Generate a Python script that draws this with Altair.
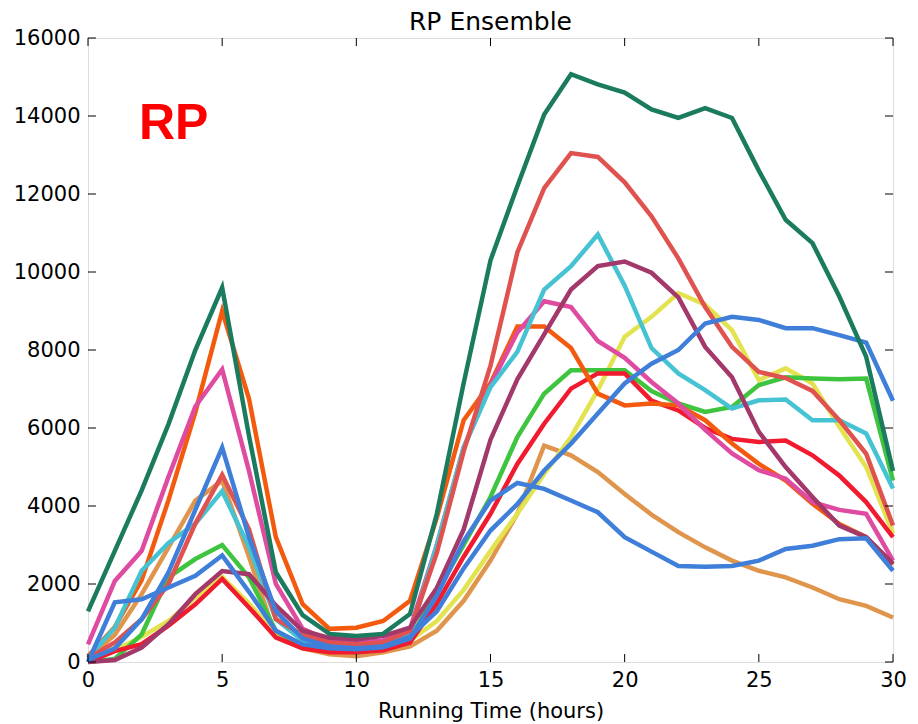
import altair as alt
import pandas as pd

hours = list(range(31))

dark_green = [1300, 2850, 4400, 6100, 8000, 9600, 5800, 2300, 1200, 720, 670, 720, 1230, 3800, 7150, 10300, 12200, 14040, 15070, 14810, 14600, 14170, 13950, 14200, 13950, 12600, 11340, 10740, 9370, 7830, 4900]
salmon = [100, 500, 1100, 2000, 3550, 4800, 3400, 1100, 700, 500, 450, 500, 800, 2800, 5400, 7600, 10500, 12150, 13050, 12950, 12300, 11430, 10350, 9100, 8080, 7440, 7280, 6950, 6200, 5340, 3500]
orange = [150, 900, 2100, 4150, 6400, 9000, 6750, 3200, 1480, 850, 880, 1050, 1570, 3700, 6200, 7150, 8600, 8600, 8050, 6880, 6580, 6630, 6580, 6200, 5600, 5080, 4650, 4060, 3540, 3200, 2500]
pink = [450, 2080, 2850, 4750, 6550, 7500, 4900, 2000, 850, 550, 500, 550, 850, 3000, 5500, 7100, 8450, 9250, 9100, 8230, 7800, 7180, 6630, 5950, 5350, 4920, 4700, 4100, 3900, 3800, 2600]
cyan = [110, 880, 2340, 3050, 3550, 4380, 2950, 1100, 550, 420, 380, 450, 680, 3000, 5500, 7050, 7950, 9550, 10150, 10960, 9650, 8050, 7400, 6970, 6500, 6710, 6730, 6200, 6200, 5860, 4450]
maroon = [0, 50, 370, 970, 1740, 2330, 2250, 1450, 800, 620, 580, 670, 880, 1900, 3400, 5700, 7250, 8400, 9550, 10150, 10270, 9980, 9350, 8080, 7300, 5900, 5000, 4230, 3500, 3200, 2520]
yellow = [0, 300, 650, 1050, 1650, 2180, 1500, 720, 400, 300, 280, 330, 550, 1050, 1850, 2850, 3800, 4820, 5770, 6970, 8340, 8850, 9460, 9160, 8510, 7230, 7530, 7140, 6030, 5000, 3300]
green = [0, 80, 710, 2170, 2640, 3000, 2170, 800, 400, 300, 250, 320, 600, 1800, 3000, 4230, 5770, 6880, 7480, 7480, 7480, 6950, 6630, 6410, 6540, 7100, 7300, 7270, 7250, 7270, 4650]
red = [0, 280, 460, 930, 1480, 2130, 1400, 630, 350, 250, 250, 300, 500, 1500, 2700, 3800, 5080, 6110, 7010, 7400, 7400, 6700, 6450, 6000, 5720, 5640, 5680, 5300, 4780, 4100, 3200]
tan = [100, 700, 1740, 2940, 4140, 4650, 2700, 630, 350, 200, 150, 250, 400, 800, 1570, 2600, 3800, 5550, 5300, 4870, 4310, 3780, 3330, 2940, 2600, 2340, 2170, 1910, 1610, 1440, 1140]
blue_a = [50, 350, 1100, 2300, 3900, 5500, 3200, 1300, 600, 400, 350, 400, 650, 1300, 2400, 3370, 4050, 4910, 5600, 6370, 7140, 7650, 8000, 8680, 8850, 8770, 8560, 8560, 8380, 8190, 6700]
blue_b = [0, 1530, 1610, 1910, 2210, 2730, 1800, 800, 450, 350, 330, 380, 600, 1700, 3100, 4140, 4590, 4440, 4140, 3840, 3200, 2830, 2460, 2440, 2460, 2600, 2900, 2980, 3150, 3170, 2340]

series = [
    ("tan", tan, "#e0954d"),
    ("yellow", yellow, "#e3e34f"),
    ("green", green, "#3ec43e"),
    ("red", red, "#f11a2e"),
    ("orange", orange, "#f45a0e"),
    ("pink", pink, "#de4ba1"),
    ("cyan", cyan, "#45c3d3"),
    ("salmon", salmon, "#e0524f"),
    ("maroon", maroon, "#a3386a"),
    ("blue_a", blue_a, "#3f7fd9"),
    ("blue_b", blue_b, "#3f7fd9"),
    ("dark_green", dark_green, "#1b7b5e"),
]

x_ticks = [0, 5, 10, 15, 20, 25, 30]
y_ticks = [0, 2000, 4000, 6000, 8000, 10000, 12000, 14000, 16000]

W, H = 805, 624
FONT = "DejaVu Sans"

xscale = alt.Scale(domain=[0, 30], nice=False, zero=False)
yscale = alt.Scale(domain=[0, 16000], nice=False)

xaxis = alt.Axis(values=x_ticks, title="Running Time (hours)", ticks=False, domain=False, grid=False,
                 labelFlush=False, labelOverlap=False,
                 labelFont=FONT, labelFontSize=21, labelColor="black", labelPadding=7,
                 titleFont=FONT, titleFontSize=21, titleFontWeight="normal", titleColor="black", titlePadding=10)
yaxis = alt.Axis(values=y_ticks, title=None, ticks=False, domain=False, grid=False, format="d",
                 labelFlush=False, labelOverlap=False,
                 labelFont=FONT, labelFontSize=21, labelColor="black", labelPadding=8)


def X(field):
    return alt.X(field, scale=xscale, axis=xaxis)


def Y(field):
    return alt.Y(field, scale=yscale, axis=yaxis)


layers = []
for name, vals, col in series:
    df = pd.DataFrame({"hour": hours, "value": vals})
    layers.append(alt.Chart(df).mark_line(color=col, strokeWidth=4.5, strokeJoin="miter")
                  .encode(x=X("hour:Q"), y=Y("value:Q")))

xt = pd.DataFrame({"hour": x_ticks})
yt = pd.DataFrame({"value": y_ticks})
tick_style = dict(color="black", strokeWidth=1)
layers.append(alt.Chart(xt).mark_rule(**tick_style).encode(x=X("hour:Q"), y=alt.value(H), y2=alt.value(H - 8)))
layers.append(alt.Chart(xt).mark_rule(**tick_style).encode(x=X("hour:Q"), y=alt.value(0), y2=alt.value(8)))
layers.append(alt.Chart(yt).mark_rule(**tick_style).encode(y=Y("value:Q"), x=alt.value(0), x2=alt.value(8)))
layers.append(alt.Chart(yt).mark_rule(**tick_style).encode(y=Y("value:Q"), x=alt.value(W), x2=alt.value(W - 8)))

label_df = pd.DataFrame({"hour": [1.9], "value": [13400], "txt": ["RP"]})
layers.append(alt.Chart(label_df).mark_text(font="Liberation Sans", fontWeight="bold", fontSize=50,
                                            color="#ff0000", align="left", baseline="alphabetic")
              .encode(x=X("hour:Q"), y=Y("value:Q"), text="txt:N"))

chart = alt.layer(*layers).properties(
    width=W, height=H,
    title=alt.TitleParams("RP Ensemble", font=FONT, fontSize=25, fontWeight="normal", color="black", offset=-8, anchor="middle"),
    autosize=alt.AutoSizeParams(type="none"),
    padding={"left": 88, "top": 38, "right": 25, "bottom": 62},
).configure_view(stroke="black", strokeWidth=1.5).configure(background="white")

chart.save("out.html", embed_options={"renderer": "svg", "actions": False})
